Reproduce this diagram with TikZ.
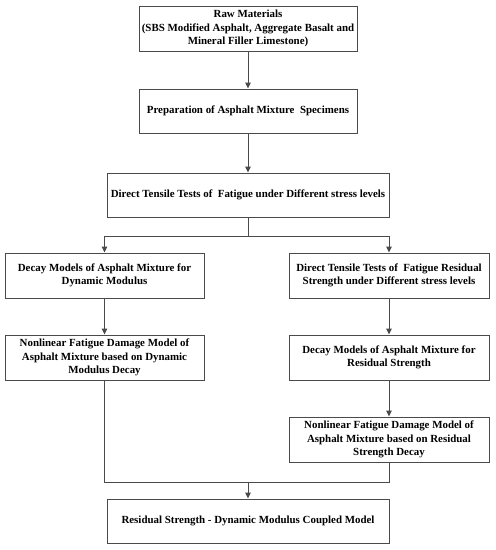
\documentclass[tikz,border=0pt]{standalone}
\usepackage{fontspec}
\setmainfont{Liberation Serif}
\usetikzlibrary{arrows.meta}
\definecolor{ln}{HTML}{4A4A4A}
\begin{document}
\begin{tikzpicture}[x=1pt,y=-1pt,
  box/.style={draw=ln,line width=1pt,rectangle,inner sep=0pt,align=center,
    font=\bfseries\fontsize{10.9}{13.5}\selectfont,text=black},
  conn/.style={draw=ln,line width=1pt},
  arr/.style={conn,-{Triangle[length=6pt,width=5.5pt]}}]
\useasboundingbox (0,0) rectangle (496,550);
\node[box,minimum width=218pt,minimum height=45pt] (b1) at (248,28.5)
  {Raw Materials\\(SBS Modified Asphalt, Aggregate Basalt and\\Mineral Filler Limestone)};
\node[box,minimum width=218pt,minimum height=44pt] (b2) at (248,111)
  {Preparation of Asphalt Mixture\ \ Specimens};
\node[box,minimum width=282pt,minimum height=44pt] (b3) at (248,195)
  {Direct Tensile Tests of\ \ Fatigue under Different stress levels};
\node[box,minimum width=199pt,minimum height=45pt] (b4) at (104.5,275.5)
  {Decay Models of Asphalt Mixture for\\Dynamic Modulus};
\node[box,minimum width=200pt,minimum height=45pt] (b5) at (389,275.5)
  {Direct Tensile Tests of\ \ Fatigue Residual\\Strength under Different stress levels};
\node[box,minimum width=199pt,minimum height=45pt] (b6) at (104.5,357.5)
  {Nonlinear Fatigue Damage Model of\\Asphalt Mixture based on Dynamic\\Modulus Decay};
\node[box,minimum width=200pt,minimum height=45pt] (b7) at (389,357.5)
  {Decay Models of Asphalt Mixture for\\Residual Strength};
\node[box,minimum width=200pt,minimum height=45pt] (b8) at (389,439.5)
  {Nonlinear Fatigue Damage Model of\\Asphalt Mixture based on Residual\\Strength Decay};
\node[box,minimum width=282pt,minimum height=44pt] (b9) at (248,521)
  {Residual Strength - Dynamic Modulus Coupled Model};
\coordinate (split) at (248,236);
\coordinate (merge) at (248,482);
\draw[arr] (b1) -- (b2);
\draw[arr] (b2) -- (b3);
\draw[conn] (b3) -- (split);
\draw[arr] (split) -| (b4);
\draw[arr] (split) -| (b5);
\draw[arr] (b4) -- (b6);
\draw[arr] (b5) -- (b7);
\draw[arr] (b7) -- (b8);
\draw[conn] (b6.south) |- (merge);
\draw[conn] (b8.south) |- (merge);
\draw[arr] (merge) -- (b9);
\end{tikzpicture}
\end{document}
